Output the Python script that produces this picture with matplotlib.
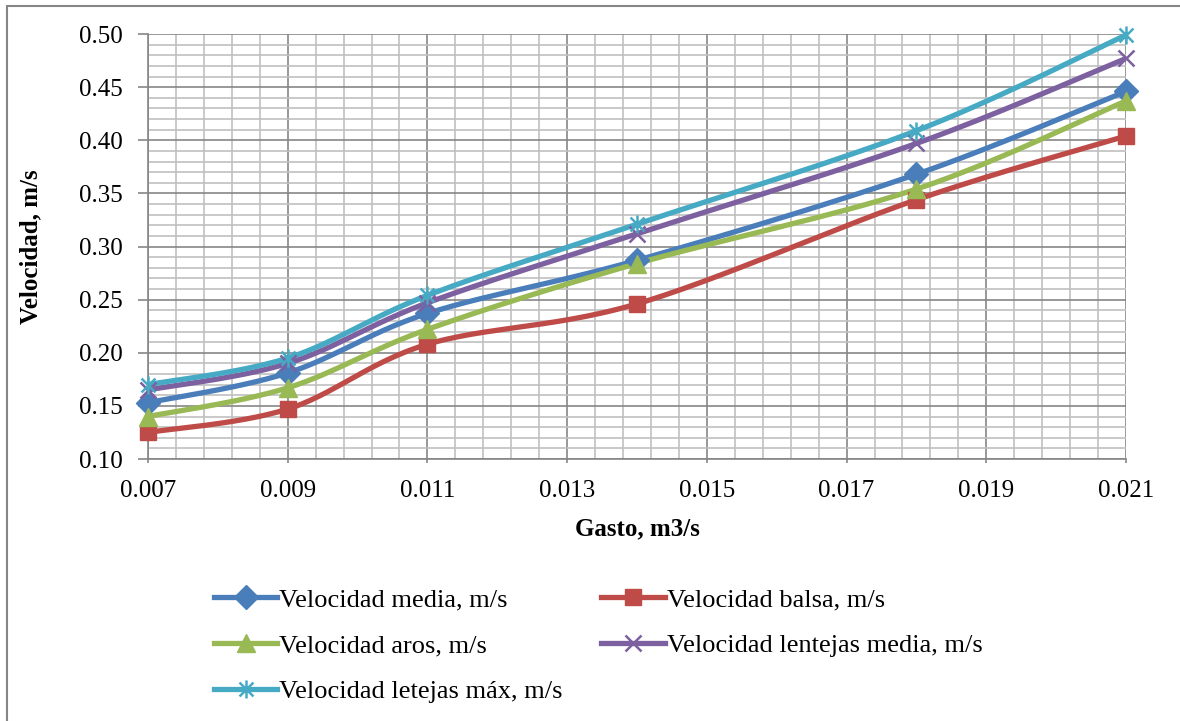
import numpy as np
import matplotlib
matplotlib.use("Agg")
import matplotlib.pyplot as plt
from matplotlib.path import Path
from matplotlib.patches import Rectangle
from matplotlib.ticker import MultipleLocator

plt.rcParams['font.family'] = ['Liberation Serif', 'DejaVu Serif']

# datos
gasto = [0.007, 0.009, 0.011, 0.014, 0.018, 0.021]
v_media = [0.153, 0.181, 0.237, 0.287, 0.368, 0.446]
v_balsa = [0.125, 0.147, 0.208, 0.246, 0.344, 0.404]
v_aros = [0.140, 0.167, 0.222, 0.284, 0.354, 0.437]
v_lent_media = [0.165, 0.190, 0.247, 0.312, 0.397, 0.477]
v_lent_max = [0.170, 0.195, 0.254, 0.321, 0.409, 0.499]

nombres = ["Velocidad media, m/s", "Velocidad balsa, m/s", "Velocidad aros, m/s",
           "Velocidad lentejas media, m/s", "Velocidad letejas máx, m/s"]
colores = ["#4A7EBB", "#BE4B48", "#98B954", "#7D60A0", "#46AAC5"]

# marcador asterisco estilo Excel (x + linea vertical)
asterisco = Path([(-1, -1), (1, 1), (-1, 1), (1, -1), (0, -1.3), (0, 1.3)],
                 [Path.MOVETO, Path.LINETO, Path.MOVETO, Path.LINETO, Path.MOVETO, Path.LINETO])
marcadores = [("D", 12), ("s", 12), ("^", 13), ("x", 12), (asterisco, 13)]

xmin, xmax, ymin, ymax = 0.007, 0.021, 0.10, 0.50
sx, sy = 978 / (xmax - xmin), 425 / (ymax - ymin)


def suavizar(x, y, n=30):
    # curva tipo Excel (Bezier con tangentes Catmull-Rom en pixeles)
    p = np.column_stack([(np.array(x) - xmin) * sx, (np.array(y) - ymin) * sy])
    ext = np.vstack([p[0], p, p[-1]])
    out = []
    t = np.linspace(0, 1, n)[:, None]
    for i in range(len(p) - 1):
        p0, p1, p2, p3 = ext[i], ext[i + 1], ext[i + 2], ext[i + 3]
        c1 = p1 + (p2 - p0) / 6
        c2 = p2 - (p3 - p1) / 6
        seg = ((1 - t) ** 3) * p1 + 3 * ((1 - t) ** 2) * t * c1 + 3 * (1 - t) * t ** 2 * c2 + t ** 3 * p2
        out.append(seg if i == 0 else seg[1:])
    out = np.vstack(out)
    return out[:, 0] / sx + xmin, out[:, 1] / sy + ymin


fig = plt.figure(figsize=(11.8, 7.21), dpi=100)
fig.patches.append(Rectangle((7 / 1180, -0.1), 1.2, 1 - 6 / 721 + 0.1, transform=fig.transFigure,
                             fill=False, edgecolor="#868686", linewidth=1.5))
ax = fig.add_axes([148 / 1180, 1 - 459 / 721, 978 / 1180, 425 / 721])

series = [v_media, v_balsa, v_aros, v_lent_media, v_lent_max]
handles = []
for vals, nombre, col, (mk, ms) in zip(series, nombres, colores, marcadores):
    mew = 1.8 if (mk == "x" or isinstance(mk, Path)) else 1
    xs, ys = suavizar(gasto, vals)
    ax.plot(xs, ys, color=col, lw=3.8, zorder=3, solid_capstyle="round")
    ax.plot(gasto, vals, linestyle="none", marker=mk, markersize=ms, color=col,
            markeredgewidth=mew, zorder=4, clip_on=False)
    h, = ax.plot([], [], color=col, lw=3.8, marker=mk, markersize=ms, markeredgewidth=mew)
    handles.append(h)

ax.set_xlim(xmin, xmax)
ax.set_ylim(ymin, ymax)
ax.xaxis.set_major_locator(MultipleLocator(0.002, offset=0.001))
ax.xaxis.set_minor_locator(MultipleLocator(0.0004, offset=0.0002))
ax.yaxis.set_major_locator(MultipleLocator(0.05))
ax.yaxis.set_minor_locator(MultipleLocator(0.01))
ax.xaxis.set_major_formatter(plt.FormatStrFormatter("%.3f"))
ax.yaxis.set_major_formatter(plt.FormatStrFormatter("%.2f"))
ax.grid(which="major", color="#868686", lw=1.2)
ax.grid(which="minor", color="#C0C0C0", lw=1.2)
ax.set_axisbelow(True)
for s in ["top", "right"]:
    ax.spines[s].set_visible(False)
for s in ["left", "bottom"]:
    ax.spines[s].set_color("#868686")
    ax.spines[s].set_linewidth(1.2)
ax.tick_params(which="major", length=7, width=1.2, color="#868686", labelsize=18, pad=11)
ax.tick_params(which="minor", length=0)
ax.tick_params(axis="x", which="major", length=3, pad=12)

ax.set_xlabel("Gasto, m3/s", fontsize=18, fontweight="bold")
ax.set_ylabel("Velocidad, m/s", fontsize=18, fontweight="bold")
ax.xaxis.set_label_coords(0.5, (459 - 529) / 425, transform=ax.transAxes)
ax.yaxis.set_label_coords((31 - 148) / 978, 0.5, transform=ax.transAxes)
ax.xaxis.label.set_va("center")
ax.yaxis.label.set_va("center")

orden = [0, 2, 4, 1, 3]
fig.legend([handles[i] for i in orden], [nombres[i] for i in orden], ncol=2,
           loc="upper left", bbox_to_anchor=(214 / 1180, 1 - 588 / 721), frameon=False,
           fontsize=19, handlelength=2.4, handletextpad=0.08, labelspacing=0.85,
           columnspacing=1.45, borderaxespad=0, borderpad=0)

fig.savefig("out.png", dpi=100, facecolor="white")
